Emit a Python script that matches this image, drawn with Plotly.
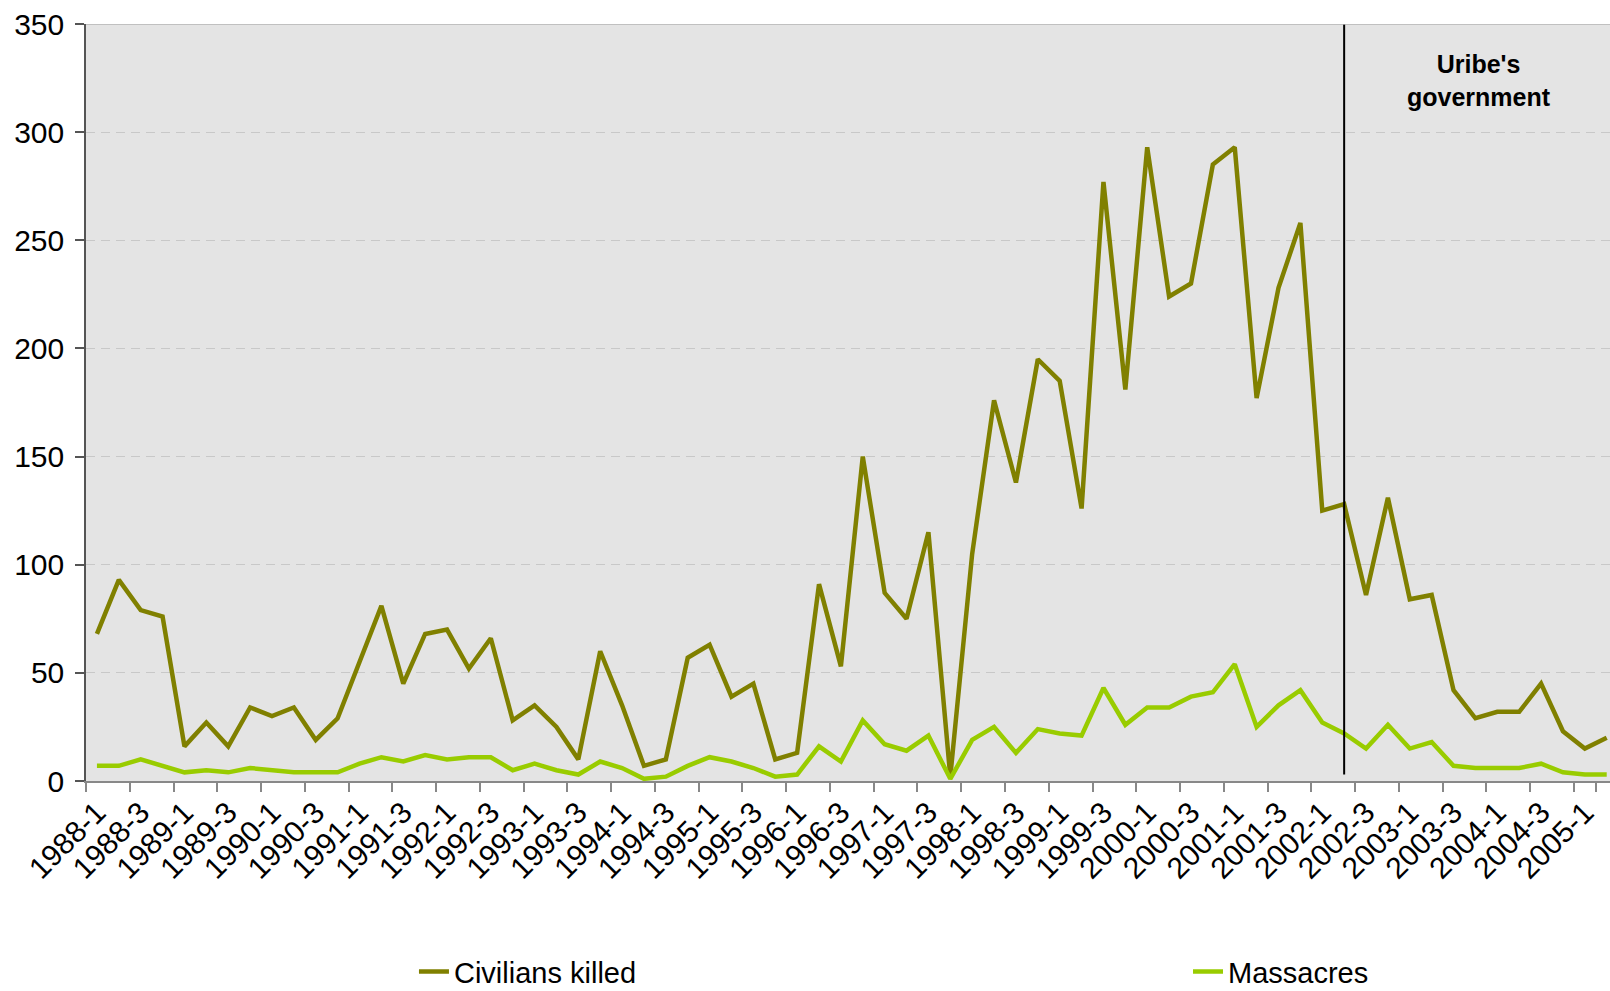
import plotly.graph_objects as go

# Quarterly periods, 1988-1 through 2005-2
years = list(range(1988, 2006))
quarters = [f"{y}-{q}" for y in years for q in (1, 2, 3, 4)][:70]

civilians_killed = [
    68, 93, 79, 76, 16, 27, 16, 34, 30, 34,
    19, 29, 55, 81, 45, 68, 70, 52, 66, 28,
    35, 25, 10, 60, 35, 7, 10, 57, 63, 39,
    45, 10, 13, 91, 53, 150, 87, 75, 115, 2,
    105, 176, 138, 195, 185, 126, 277, 181, 293, 224,
    230, 285, 293, 177, 228, 258, 125, 128, 86, 131,
    84, 86, 42, 29, 32, 32, 45, 23, 15, 20,
]
massacres = [
    7, 7, 10, 7, 4, 5, 4, 6, 5, 4,
    4, 4, 8, 11, 9, 12, 10, 11, 11, 5,
    8, 5, 3, 9, 6, 1, 2, 7, 11, 9,
    6, 2, 3, 16, 9, 28, 17, 14, 21, 1,
    19, 25, 13, 24, 22, 21, 43, 26, 34, 34,
    39, 41, 54, 25, 35, 42, 27, 22, 15, 26,
    15, 18, 7, 6, 6, 6, 8, 4, 3, 3,
]

uribe_start = "2002-2"
uribe_label = "Uribe's<br>government"
y_ticks = [0, 50, 100, 150, 200, 250, 300, 350]

FONT = "Arial, 'Liberation Sans', sans-serif"

fig = go.Figure()
fig.add_trace(go.Scatter(
    x=quarters, y=civilians_killed, mode="lines", name="Civilians killed",
    line=dict(color="#808000", width=4.5), legend="legend",
))
fig.add_trace(go.Scatter(
    x=quarters, y=massacres, mode="lines", name="Massacres",
    line=dict(color="#99CC00", width=4.5), legend="legend2",
))

# Start of Uribe's government
fig.add_shape(type="line", xref="x", yref="y", x0=uribe_start, x1=uribe_start,
              y0=3, y1=350, line=dict(color="black", width=2))
# top border of the plotting area
fig.add_shape(type="line", xref="paper", yref="y", x0=0, x1=1, y0=350, y1=350,
              line=dict(color="#b4b4b4", width=1.5))

fig.add_annotation(text=f"<b>{uribe_label}</b>", xref="paper", yref="paper",
                   x=0.914, y=0.926, showarrow=False, xanchor="center", yanchor="middle",
                   font=dict(family=FONT, size=25, color="black"))

fig.update_xaxes(
    type="category", categoryorder="array", categoryarray=quarters,
    range=[-0.5, 69.15],
    tickmode="array", tickvals=quarters[::2], ticktext=quarters[::2],
    tickson="boundaries", ticks="outside", ticklen=9, tickcolor="#888888", tickwidth=1.5,
    tickangle=-45, tickfont=dict(family=FONT, size=30, color="black"),
    showline=True, linecolor="#888888", linewidth=1.5,
    showgrid=False, zeroline=False,
)
fig.update_yaxes(
    range=[0, 350], tickmode="array", tickvals=y_ticks,
    ticks="outside", ticklen=9, tickcolor="#555555", tickwidth=1.5,
    tickfont=dict(family=FONT, size=30, color="black"), ticklabelstandoff=5,
    showline=True, linecolor="#555555", linewidth=1.5,
    showgrid=True, gridcolor="#c8c8c8", gridwidth=1, griddash="9px,6px",
    zeroline=False,
)

legend_style = dict(orientation="h", xanchor="left", y=-0.252, yanchor="middle",
                    font=dict(family=FONT, size=29, color="black"),
                    bgcolor="rgba(0,0,0,0)")

fig.update_layout(
    width=1610, height=991, autosize=False,
    margin=dict(l=86, r=0, t=24, b=210, autoexpand=False),
    plot_bgcolor="#e4e4e4", paper_bgcolor="white",
    font=dict(family=FONT, color="black"),
    showlegend=True,
    legend=dict(x=0.2152, **legend_style),
    legend2=dict(x=0.7231, **legend_style),
)

fig.write_html("out.html")
